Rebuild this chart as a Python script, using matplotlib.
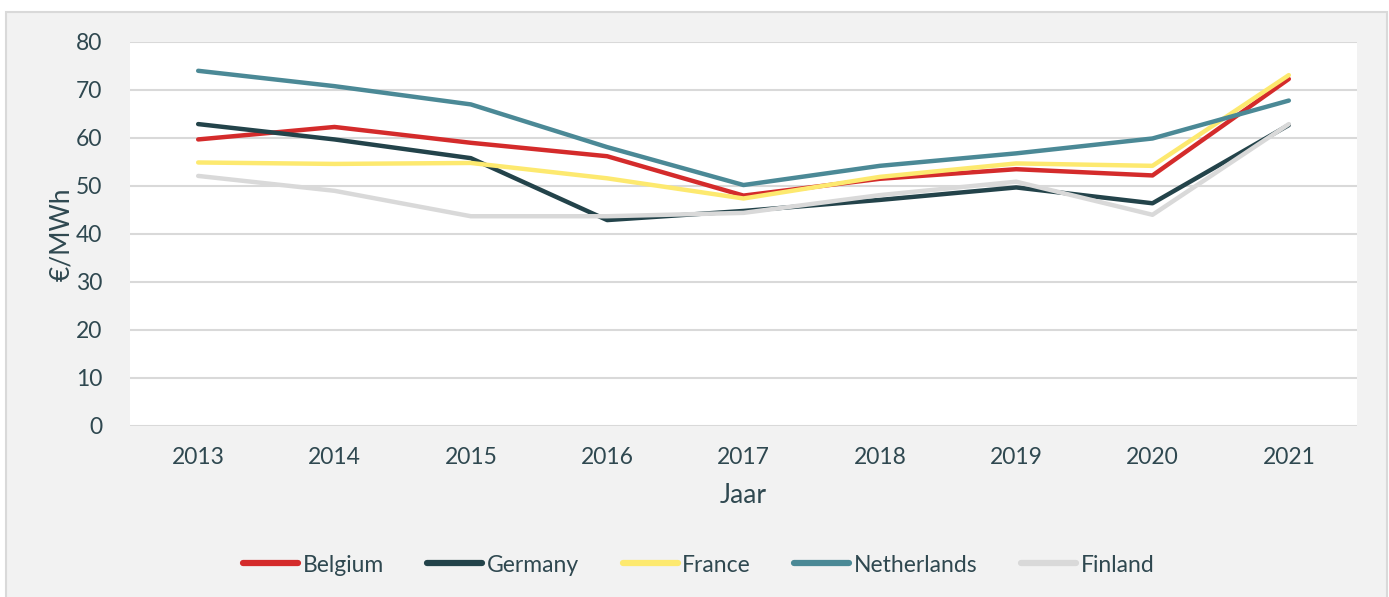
import numpy as np
import matplotlib.pyplot as plt
from matplotlib.patches import Rectangle

plt.rcParams['font.family'] = ['Lato', 'DejaVu Sans']

jaren = ["2013", "2014", "2015", "2016", "2017", "2018", "2019", "2020", "2021"]
belgium = [59.7, 62.3, 59.0, 56.2, 48.0, 51.5, 53.5, 52.2, 72.3]
germany = [62.9, 59.7, 55.8, 42.9, 44.8, 47.1, 49.7, 46.4, 62.7]
france = [54.9, 54.6, 54.8, 51.6, 47.4, 51.9, 54.7, 54.2, 73.1]
netherlands = [74.0, 70.8, 67.0, 58.1, 50.2, 54.2, 56.8, 59.9, 67.8]
finland = [52.1, 49.0, 43.7, 43.7, 44.4, 48.1, 50.9, 44.0, 62.9]

landen = ["Belgium", "Germany", "France", "Netherlands", "Finland"]
reeksen = [belgium, germany, france, netherlands, finland]
kleuren = ["#d42b2b", "#23434a", "#fde96f", "#4b8996", "#d9d9d9"]
tekst = "#2f4850"

fig = plt.figure(figsize=(13.89, 5.97), dpi=100, facecolor="white")
fig.patches.append(Rectangle((6 / 1389, -0.01), 1381 / 1389, 1 - 12 / 597 + 0.01,
                             transform=fig.transFigure, facecolor="#f2f2f2",
                             edgecolor="#d9d9d9", linewidth=1.5, zorder=-10))

ax = fig.add_axes([130 / 1389, 1 - 426 / 597, 1227 / 1389, 384 / 597])
ax.set_facecolor("white")

x = np.arange(len(jaren))
for naam, waarden, kleur in zip(landen, reeksen, kleuren):
    ax.plot(x, waarden, color=kleur, lw=3.2, label=naam, solid_capstyle="round")

ax.set_xlim(-0.5, len(jaren) - 0.5)
ax.set_ylim(0, 80)
ax.set_yticks(range(0, 81, 10))
ax.set_xticks(x)
ax.set_xticklabels(jaren)
ax.grid(axis="y", color="#d9d9d9", lw=1.5)
ax.set_axisbelow(True)
for s in ax.spines.values():
    s.set_visible(False)
ax.tick_params(axis="both", length=0, labelsize=16.5, colors=tekst)
ax.tick_params(axis="y", pad=20)
ax.tick_params(axis="x", pad=15)
ax.set_xlabel("Jaar", fontsize=19, color=tekst, labelpad=11)
ax.set_ylabel("€/MWh", fontsize=19, color=tekst, labelpad=1)

leg = fig.legend(loc="center", bbox_to_anchor=(0.503, 1 - 565 / 597), ncol=5,
                 frameon=False, fontsize=16.5, labelcolor=tekst, handlelength=2.4,
                 handletextpad=0.2, columnspacing=1.9)
for h in leg.get_lines():
    h.set_linewidth(4.5)

fig.savefig("out.png", dpi=100, facecolor=fig.get_facecolor())
